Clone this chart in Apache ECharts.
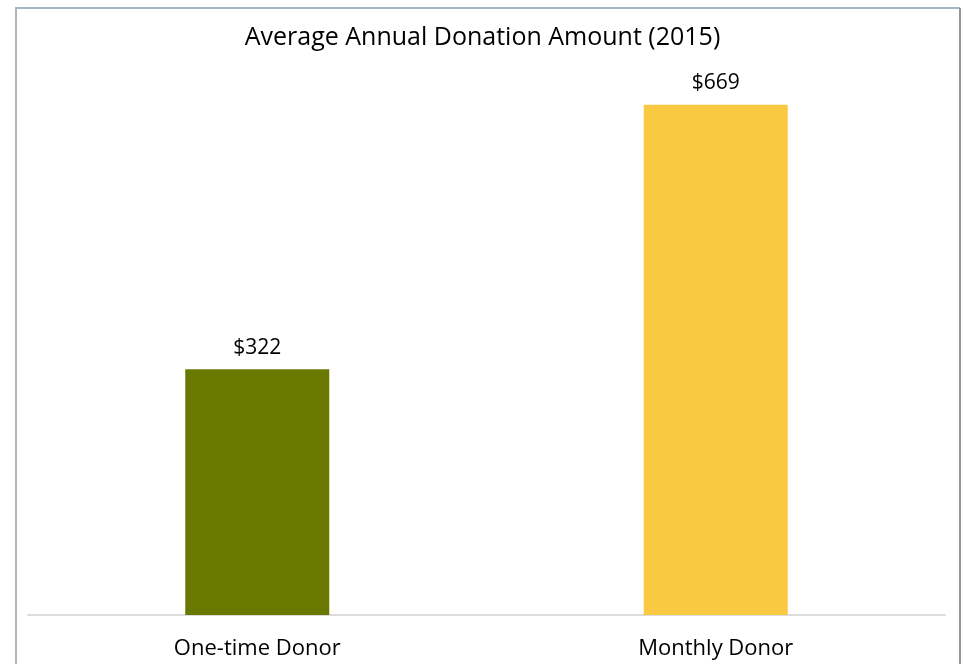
<!DOCTYPE html>
<html>
<head>
<meta charset="utf-8">
<script src="https://cdn.jsdelivr.net/npm/echarts@6/dist/echarts.min.js"></script>
<style>
  html, body { margin: 0; padding: 0; background: #ffffff; }
  #chart { width: 965px; height: 664px; }
</style>
</head>
<body>
<div id="chart"></div>
<script>
// Donor types and their average annual gift in 2015 (US dollars)
const donorTypes = ['One-time Donor', 'Monthly Donor'];
const avgDonation = [322, 669];
const barColors = ['#697900', '#f9ca41'];

const FONT = '"Open Sans", "Noto Sans", sans-serif';

const chart = echarts.init(document.getElementById('chart'), null, { renderer: 'canvas' });

chart.setOption({
  backgroundColor: '#ffffff',
  animation: false,
  title: {
    text: 'Average Annual Donation Amount (2015)',
    left: 'center',
    top: 20,
    textStyle: { fontFamily: FONT, fontSize: 25, fontWeight: 'normal', color: '#000000' }
  },
  graphic: [
    // chart frame
    { type: 'polyline', shape: { points: [[16, 700], [16, 8], [960, 8]] },
      style: { stroke: '#a9b6bf', lineWidth: 2, fill: null } },
    { type: 'line', shape: { x1: 960, y1: 8, x2: 960, y2: 700 },
      style: { stroke: '#8a99a4', lineWidth: 2 } }
  ],
  grid: { left: 28, right: 20, top: 81, bottom: 49, containLabel: false },
  xAxis: {
    type: 'category',
    data: donorTypes,
    axisLine: { show: true, lineStyle: { color: '#dcdcdc', width: 2 } },
    axisTick: { show: false },
    axisLabel: { margin: 23, fontFamily: FONT, fontSize: 22, color: '#000000' }
  },
  yAxis: {
    type: 'value',
    min: 0,
    max: 700,
    show: false,
    splitLine: { show: false }
  },
  series: [{
    type: 'bar',
    barWidth: 144,
    data: avgDonation.map((v, i) => ({ value: v, itemStyle: { color: barColors[i] } })),
    label: {
      show: true,
      position: 'top',
      distance: 11,
      fontFamily: FONT,
      fontSize: 21,
      color: '#000000',
      formatter: p => '$' + p.value
    }
  }]
});
</script>
</body>
</html>
